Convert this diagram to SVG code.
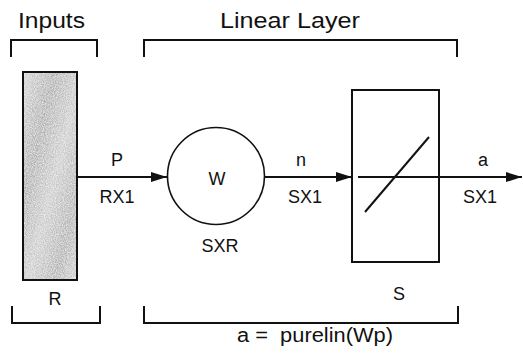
<svg xmlns="http://www.w3.org/2000/svg" width="523" height="359" viewBox="0 0 523 359">
  <style>
    .t { font-family: "Liberation Sans", Arial, sans-serif; fill: #111; }
    .big { font-size: 22px; }
    .lbl { font-size: 18px; text-anchor: middle; }
    .br { fill: none; stroke: #111; stroke-width: 2; }
    .ln { fill: none; stroke: #111; stroke-width: 2; }
  </style>
  <defs>
    <marker id="ah" viewBox="0 0 16 10" refX="16" refY="5" markerWidth="16" markerHeight="10" markerUnits="userSpaceOnUse" orient="auto">
      <path d="M0,0 L16,5 L0,10 Z" fill="#111"/>
    </marker>
    <linearGradient id="gg" x1="0" y1="0" x2="1" y2="1">
      <stop offset="0" stop-color="#d4d4d4"/>
      <stop offset="0.3" stop-color="#adadad"/>
      <stop offset="0.55" stop-color="#cccccc"/>
      <stop offset="0.8" stop-color="#b0b0b0"/>
      <stop offset="1" stop-color="#d0d0d0"/>
    </linearGradient>
    <filter id="noise" x="0" y="0" width="1" height="1">
      <feTurbulence type="fractalNoise" baseFrequency="0.9" numOctaves="2" seed="3" result="n"/>
      <feColorMatrix in="n" type="matrix" values="0 0 0 0 1  0 0 0 0 1  0 0 0 0 1  1.2 0 0 0 -0.35" result="a"/>
      <feComposite in="a" in2="SourceGraphic" operator="in" result="dots"/>
      <feMerge>
        <feMergeNode in="SourceGraphic"/>
        <feMergeNode in="dots"/>
      </feMerge>
    </filter>
  </defs>

  <g id="brackets">
    <path class="br" d="M11,57 V40 H97 V57"/>
    <path class="br" d="M144,57 V40 H457 V57"/>
    <path class="br" d="M12,306 V323 H100 V306"/>
    <path class="br" d="M144,306 V323 H458 V306"/>
  </g>

  <text class="t big" x="18" y="28" textLength="67" lengthAdjust="spacingAndGlyphs">Inputs</text>
  <text class="t big" x="220" y="28" textLength="140" lengthAdjust="spacingAndGlyphs">Linear Layer</text>
  <text class="t" x="237" y="342" font-size="20" textLength="156" lengthAdjust="spacingAndGlyphs" xml:space="preserve">a =  purelin(Wp)</text>

  <g id="inputs">
    <rect x="23" y="72" width="54" height="208" fill="url(#gg)" filter="url(#noise)"/>
    <rect x="23" y="72" width="54" height="208" fill="none" stroke="#111" stroke-width="2"/>
    <text class="t lbl" x="55" y="305">R</text>
  </g>

  <g id="weight">
    <circle cx="216" cy="176" r="48.5" fill="none" stroke="#111" stroke-width="1.6"/>
    <text class="t lbl" x="217" y="185">W</text>
    <text class="t lbl" x="220" y="252">SXR</text>
  </g>

  <g id="transfer">
    <rect x="352" y="90" width="87" height="172" fill="none" stroke="#111" stroke-width="2"/>
    <line class="ln" x1="358" y1="177" x2="439" y2="177"/>
    <line class="ln" x1="365" y1="212" x2="429" y2="137"/>
    <text class="t lbl" x="399" y="300">S</text>
  </g>

  <g id="connectors">
    <line class="ln" x1="77" y1="177" x2="167" y2="177" marker-end="url(#ah)"/>
    <line class="ln" x1="265" y1="177" x2="352" y2="177" marker-end="url(#ah)"/>
    <line class="ln" x1="439" y1="177" x2="522" y2="177" marker-end="url(#ah)"/>
  </g>

  <g id="labels">
    <text class="t lbl" x="117" y="166">P</text>
    <text class="t lbl" x="117" y="203">RX1</text>
    <text class="t lbl" x="301" y="166">n</text>
    <text class="t lbl" x="305" y="203">SX1</text>
    <text class="t lbl" x="483" y="166">a</text>
    <text class="t lbl" x="480" y="203">SX1</text>
  </g>
</svg>
